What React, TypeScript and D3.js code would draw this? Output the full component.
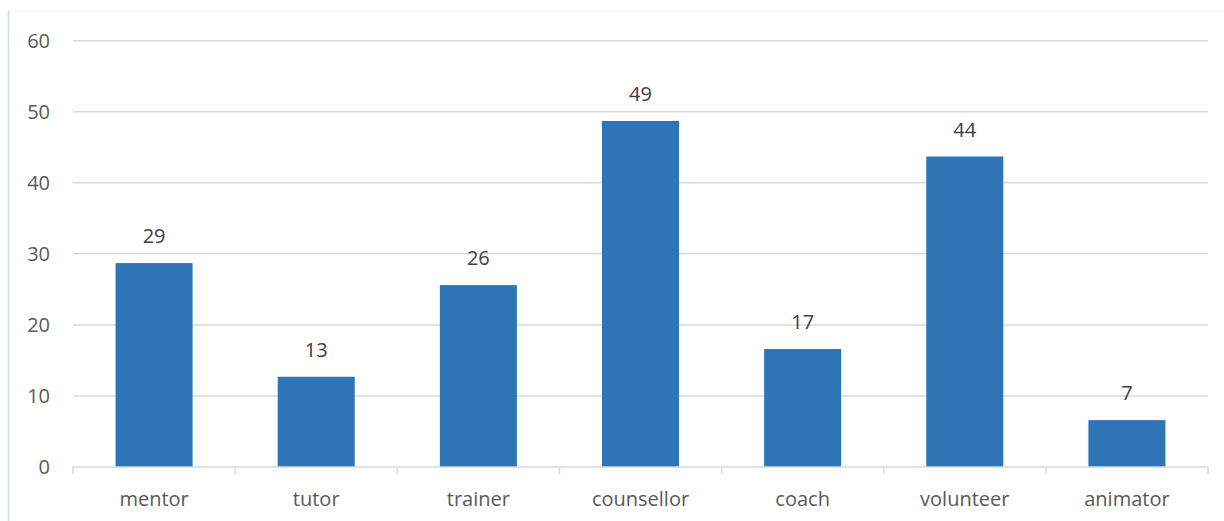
import React, { useRef, useEffect } from 'react';
import * as d3 from 'd3';

const categories = ['mentor', 'tutor', 'trainer', 'counsellor', 'coach', 'volunteer', 'animator'];
const values = [28.7, 12.7, 25.6, 48.7, 16.6, 43.7, 6.6];
const yTicks = [0, 10, 20, 30, 40, 50, 60];

const W = 1224;
const H = 521;

const App: React.FC = () => {
  const ref = useRef<SVGSVGElement>(null);

  useEffect(() => {
    const svg = d3.select(ref.current);
    svg.selectAll('*').remove();

    const left = 73;
    const right = 1208;
    const top = 40.7;
    const bottom = 467;
    const font = "'Open Sans', 'Liberation Sans', sans-serif";

    // chart frame
    svg.append('line').attr('x1', 8).attr('x2', W).attr('y1', 11).attr('y2', 11)
      .attr('stroke', '#f2f2f2').attr('stroke-width', 1);
    svg.append('line').attr('x1', 8.5).attr('x2', 8.5).attr('y1', 11).attr('y2', H)
      .attr('stroke', '#c9dcf0').attr('stroke-width', 1.5);

    const x = d3.scaleBand().domain(categories).range([left, right]).paddingInner(0.525).paddingOuter(0.2625);
    const y = d3.scaleLinear().domain([0, 60]).range([bottom, top]);

    // gridlines
    svg.append('g')
      .selectAll('line')
      .data(yTicks.filter((t) => t > 0))
      .enter()
      .append('line')
      .attr('x1', left)
      .attr('x2', right)
      .attr('y1', (d) => y(d))
      .attr('y2', (d) => y(d))
      .attr('stroke', '#d9d9d9')
      .attr('stroke-width', 1.5);

    // y labels
    svg.append('g')
      .selectAll('text')
      .data(yTicks)
      .enter()
      .append('text')
      .text((d) => d)
      .attr('x', 50)
      .attr('y', (d) => y(d))
      .attr('dy', '0.35em')
      .attr('text-anchor', 'end')
      .attr('font-family', font)
      .attr('font-size', 20)
      .attr('fill', '#595959');

    // bars
    svg.append('g')
      .selectAll('rect')
      .data(values)
      .enter()
      .append('rect')
      .attr('x', (_d, i) => x(categories[i]) || 0)
      .attr('y', (d) => y(d))
      .attr('width', x.bandwidth())
      .attr('height', (d) => bottom - y(d))
      .attr('fill', '#2e75b6');

    // value labels
    svg.append('g')
      .selectAll('text')
      .data(values)
      .enter()
      .append('text')
      .text((d) => d3.format('.0f')(d))
      .attr('x', (_d, i) => (x(categories[i]) || 0) + x.bandwidth() / 2)
      .attr('y', (d) => y(d) - 20)
      .attr('text-anchor', 'middle')
      .attr('font-family', font)
      .attr('font-size', 20)
      .attr('fill', '#404040');

    // x axis
    const step = (right - left) / categories.length;
    svg.append('line').attr('x1', left).attr('x2', right).attr('y1', bottom).attr('y2', bottom)
      .attr('stroke', '#d9d9d9').attr('stroke-width', 1.5);
    svg.append('g')
      .selectAll('line')
      .data(d3.range(categories.length + 1))
      .enter()
      .append('line')
      .attr('x1', (d) => left + d * step)
      .attr('x2', (d) => left + d * step)
      .attr('y1', bottom)
      .attr('y2', bottom + 7)
      .attr('stroke', '#d9d9d9')
      .attr('stroke-width', 1.5);

    svg.append('g')
      .selectAll('text')
      .data(categories)
      .enter()
      .append('text')
      .text((d) => d)
      .attr('x', (d) => (x(d) || 0) + x.bandwidth() / 2)
      .attr('y', 506)
      .attr('text-anchor', 'middle')
      .attr('font-family', font)
      .attr('font-size', 20)
      .attr('fill', '#595959');
  }, []);

  return (
    <svg ref={ref} width={W} height={H} style={{ position: 'absolute', left: 0, top: 0, background: '#fff' }}></svg>
  );
};

export default App;
